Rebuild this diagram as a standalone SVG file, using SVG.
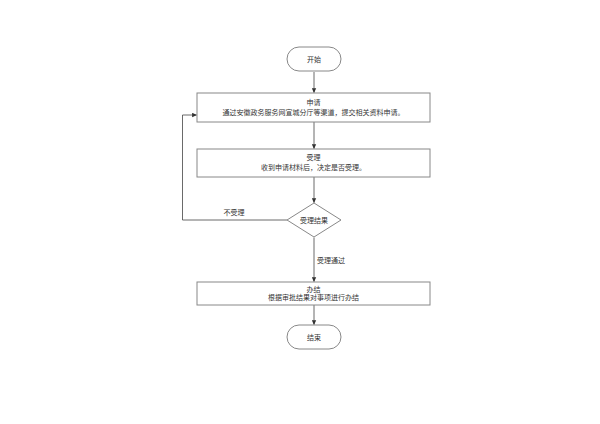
<svg xmlns="http://www.w3.org/2000/svg" width="600" height="424" viewBox="0 0 600 424">
<defs>
<marker id="arr" viewBox="0 0 8 8" refX="7" refY="4" markerWidth="5" markerHeight="5" orient="auto" markerUnits="userSpaceOnUse"><path d="M0,0.5 L8,4 L0,7.5 Z" fill="#333"/></marker>
<style>
.shape{fill:#fff;stroke:#888;stroke-width:1}
.t{font-family:"Liberation Sans","Noto Sans CJK SC",sans-serif;font-size:7px;fill:#333;text-anchor:middle}
.edge{fill:none;stroke:#444;stroke-width:0.8;marker-end:url(#arr)}
</style>
</defs>
<rect width="600" height="424" fill="#fff"/>
<g id="connectors">
<path class="edge" d="M314,72 V92.5"/>
<path class="edge" d="M314,122 V148.5"/>
<path class="edge" d="M314,177 V202.5"/>
<path class="edge" d="M287,220 H182.5 V115 H196.5"/>
<path class="edge" d="M314,237.5 V281.5"/>
<path class="edge" d="M314,305 V324.5"/>
</g>
<g id="start"><rect class="shape" x="287" y="47" width="54" height="24" rx="12"/><text class="t" x="314" y="61.5">开始</text></g>
<g id="apply"><rect class="shape" x="197" y="93" width="233" height="29"/><text class="t" x="313.5" y="105">申请</text><text class="t" x="313.5" y="115">通过安徽政务服务网宣城分厅等渠道，提交相关资料申请。</text></g>
<g id="accept"><rect class="shape" x="197" y="149" width="233" height="28"/><text class="t" x="313.5" y="160">受理</text><text class="t" x="313.5" y="170">收到申请材料后，决定是否受理。</text></g>
<g id="decision"><path class="shape" d="M314,203 L341,220 L314,237 L287,220 Z"/><text class="t" x="314" y="222.5">受理结果</text></g>
<g id="done"><rect class="shape" x="197" y="282" width="233" height="23"/><text class="t" x="313.5" y="291.5">办结</text><text class="t" x="313.5" y="300">根据审批结果对事项进行办结</text></g>
<g id="end"><rect class="shape" x="287" y="325" width="54" height="24" rx="12"/><text class="t" x="314" y="339.5">结束</text></g>
<text class="t" x="234" y="214.5">不受理</text>
<text class="t" x="331" y="263">受理通过</text>
</svg>
